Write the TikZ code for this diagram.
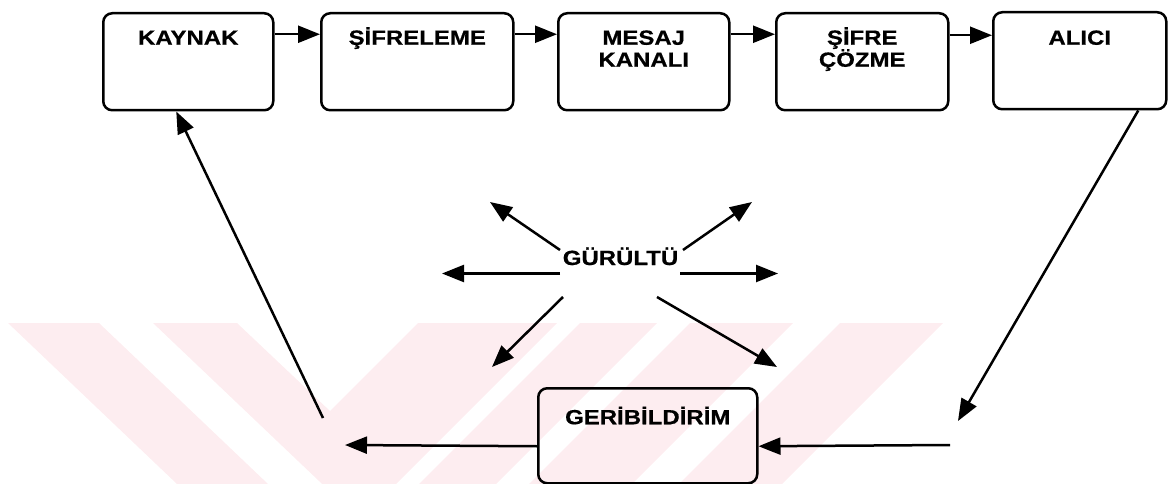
\documentclass[tikz,border=0pt]{standalone}
\usepackage{fontspec}
\newfontfamily\diafont{Liberation Sans}[FakeStretch=1.17,FakeBold=0.6]
\usetikzlibrary{arrows.meta}
\definecolor{wm}{RGB}{253,237,240}
\tikzset{
  box/.style={draw=black, line width=2.5pt, rounded corners=9pt, inner sep=0pt, anchor=north west,
    font=\diafont\bfseries\fontsize{20.5}{22}\selectfont},
  lbl/.style={inner sep=0pt, font=\diafont\bfseries\fontsize{20.5}{22}\selectfont},
  conn/.style={line width=2.5pt, -{Triangle[length=22pt,width=17pt]}},
}
\newcommand{\boxtext}[4]{\parbox[t][#1][t]{#2}{\centering\vspace*{#3}\leavevmode#4}}
\begin{document}
\begin{tikzpicture}[x=1pt,y=-1pt]
\useasboundingbox (0,0) rectangle (1168,484);
% watermark
\begin{scope}
\clip (0,323) rectangle (1168,484);
\fill[wm] (8,323) -- (99,323) -- (268,484) -- (177,484) -- cycle;
\fill[wm] (153,323) -- (237,323) -- (330,411) -- (418,323) -- (557,323) -- (360,520) -- cycle;
\fill[wm] (580,323) -- (657,323) -- (496,484) -- (419,484) -- cycle;
\fill[wm] (690,323) -- (793,323) -- (632,484) -- (529,484) -- cycle;
\fill[wm] (840,323) -- (943,323) -- (782,484) -- (679,484) -- cycle;
\end{scope}
% top boxes
\node[box] (kaynak) at (102,12) {\boxtext{97pt}{170pt}{31.5pt}{\smash{KAYNAK}}};
\node[box] (sifreleme) at (320,12) {\boxtext{97pt}{192pt}{31.5pt}{\smash{ŞİFRELEME}}};
\node[box] (mesaj) at (557,12) {\boxtext{97pt}{171pt}{31.5pt}{\smash{MESAJ}\\\smash{KANALI}}};
\node[box] (cozme) at (775,12) {\boxtext{97pt}{172pt}{31.5pt}{\smash{ŞİFRE}\\\smash{ÇÖZME}}};
\node[box] (alici) at (992,11) {\boxtext{97pt}{173pt}{32.5pt}{\smash{ALICI}}};
% feedback box
\node[box] (geri) at (537,387) {\boxtext{95pt}{219pt}{36pt}{\smash{GERİBİLDİRİM}}};
% top connectors
\draw[conn] ([yshift=27.5pt]kaynak.east) -- ([yshift=27.5pt]sifreleme.west);
\draw[conn] ([yshift=27.5pt]sifreleme.east) -- ([yshift=27.5pt]mesaj.west);
\draw[conn] ([yshift=27.5pt]mesaj.east) -- ([yshift=27.5pt]cozme.west);
\draw[conn] ([yshift=26.5pt]cozme.east) -- ([yshift=26.5pt]alici.west |- cozme.east);
% feedback loop
\coordinate (rtip) at (958,421);
\coordinate (rin) at (950,445);
\coordinate (lout) at (345,445);
\coordinate (lstart) at (323,418);
\draw[conn] ([xshift=58.5pt]alici.south) -- (rtip);
\draw[conn] (rin) -- ([yshift=-10.5pt]geri.east);
\draw[conn] ([yshift=-10.5pt]geri.west) -- (lout);
\draw[conn] (lstart) -- ([xshift=-12pt]kaynak.south);
% noise
\node[lbl, anchor=base] (g) at (620.5,265) {GÜRÜLTÜ};
\coordinate (n1a) at (560,250); \coordinate (n1b) at (490,202);
\coordinate (n2a) at (683,250); \coordinate (n2b) at (752,202);
\coordinate (n3a) at (560,273.5); \coordinate (n3b) at (442,273.5);
\coordinate (n4a) at (680,273.5); \coordinate (n4b) at (778,273.5);
\coordinate (n5a) at (563,297); \coordinate (n5b) at (492,367);
\coordinate (n6a) at (657,297); \coordinate (n6b) at (777,367);
\draw[conn] (n1a) -- (n1b);
\draw[conn] (n2a) -- (n2b);
\draw[conn] (n3a) -- (n3b);
\draw[conn] (n4a) -- (n4b);
\draw[conn] (n5a) -- (n5b);
\draw[conn] (n6a) -- (n6b);
\end{tikzpicture}
\end{document}
